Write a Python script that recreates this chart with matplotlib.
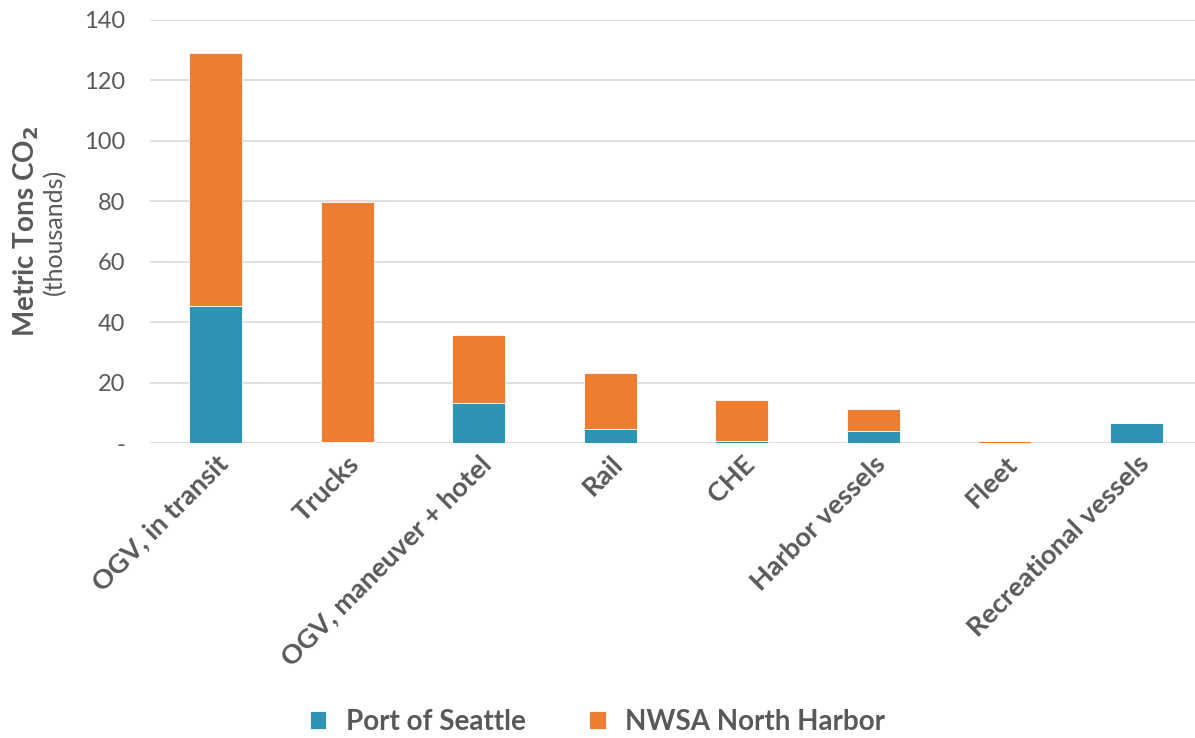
import matplotlib.pyplot as plt
import numpy as np

categories = ["OGV, in transit", "Trucks", "OGV, maneuver + hotel", "Rail", "CHE",
              "Harbor vessels", "Fleet", "Recreational vessels"]
port_of_seattle = [45.2, 0.2, 13.2, 4.6, 0.5, 4.0, 0.0, 6.7]
nwsa_north = [83.8, 79.4, 22.4, 18.6, 13.8, 7.3, 0.5, 0.0]
yticks = [0, 20, 40, 60, 80, 100, 120, 140]
ytick_labels = ["-", "20", "40", "60", "80", "100", "120", "140"]

blue = "#2E94B4"
orange = "#ED7D31"
gray = "#595959"

plt.rcParams['font.family'] = ['Lato', 'DejaVu Sans']

fig = plt.figure(figsize=(11.95, 7.38), dpi=100)
ax = fig.add_axes([150 / 1195, 1 - 443 / 738, 1052 / 1195, 423 / 738])

x = np.arange(len(categories))
ax.bar(x, port_of_seattle, width=0.4, color=blue, edgecolor="white", linewidth=0.6,
       label="Port of Seattle", zorder=3)
ax.bar(x, nwsa_north, width=0.4, bottom=port_of_seattle, color=orange, edgecolor="white",
       linewidth=0.6, label="NWSA North Harbor", zorder=3)

ax.set_xlim(-0.5, 7.5)
ax.set_ylim(0, 140)
ax.set_yticks(yticks)
ax.set_yticklabels(ytick_labels, fontsize=17, color=gray)
ax.yaxis.grid(True, color="#D9D9D9", linewidth=1.2, zorder=0)
ax.tick_params(axis='y', length=0, pad=18)
ax.tick_params(axis='x', length=0, pad=6)
for s in ax.spines.values():
    s.set_visible(False)

ax.set_xticks(x)
ax.set_xticklabels(categories, rotation=45, ha='right', rotation_mode='anchor',
                   fontsize=19.5, fontweight='bold', color=gray)

fig.text(26 / 1195, 1 - 232 / 738, "Metric Tons CO$_\\mathbf{2}$", rotation=90, ha='center',
         va='center', fontsize=20, fontweight='bold', color=gray)
fig.text(55 / 1195, 1 - 232 / 738, "(thousands)", rotation=90, ha='center',
         va='center', fontsize=18, color=gray)

leg = fig.legend(loc='center', bbox_to_anchor=(0.5, 1 - 722 / 738), ncol=2, frameon=False,
                 fontsize=20, handlelength=0.6, handleheight=0.6, columnspacing=2.3,
                 handletextpad=0.7)
for t in leg.get_texts():
    t.set_color(gray)
    t.set_fontweight('bold')

fig.savefig("out.png", dpi=100)
